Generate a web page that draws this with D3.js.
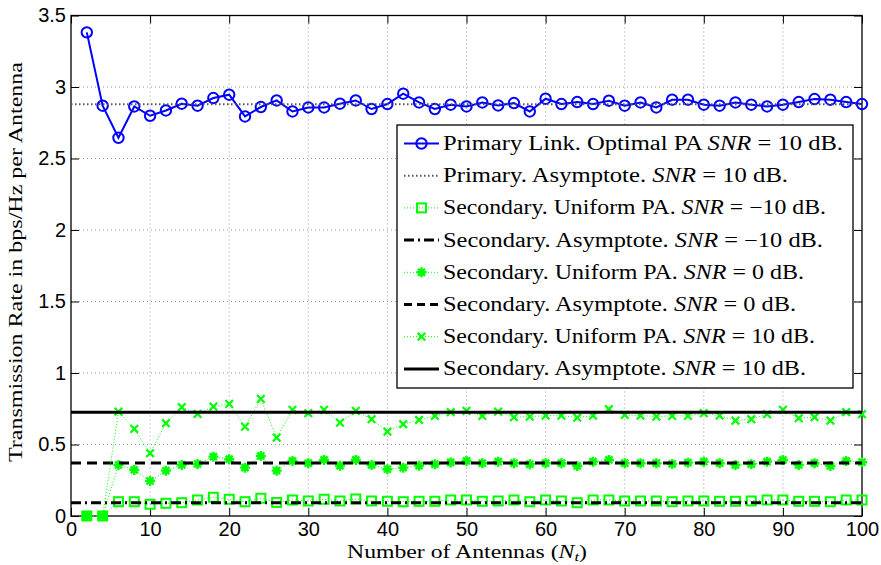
<!DOCTYPE html>
<html><head><meta charset="utf-8">
<script src="https://cdn.jsdelivr.net/npm/d3@7"></script>
<style>
body{margin:0;background:#fff;}
svg{display:block;}
</style></head>
<body><svg id="c" width="881" height="565"></svg>
<script>
const nt = [2,4,6,8,10,12,14,16,18,20,22,24,26,28,30,32,34,36,38,40,42,44,46,48,50,
            52,54,56,58,60,62,64,66,68,70,72,74,76,78,80,82,84,86,88,90,92,94,96,98,100];
const primaryOpt = [3.382,2.869,2.645,2.864,2.799,2.836,2.883,2.869,2.923,2.946,2.794,2.860,2.906,2.829,2.857,2.857,2.883,2.906,2.846,2.881,2.953,2.892,2.846,2.876,2.864,
                    2.892,2.871,2.888,2.829,2.918,2.881,2.895,2.881,2.904,2.869,2.892,2.857,2.911,2.911,2.876,2.869,2.892,2.876,2.864,2.876,2.895,2.916,2.911,2.895,2.881];
const primaryAsym = 2.88;
const secM10 = [0,0,0.100,0.100,0.082,0.089,0.093,0.112,0.131,0.117,0.100,0.124,0.095,0.112,0.105,0.117,0.105,0.119,0.105,0.103,0.100,0.103,0.103,0.112,0.112,
                0.103,0.105,0.112,0.100,0.112,0.105,0.093,0.112,0.112,0.105,0.105,0.105,0.100,0.105,0.105,0.103,0.103,0.105,0.112,0.112,0.103,0.103,0.100,0.112,0.112];
const secM10Asym = 0.093;
const sec0 = [0,0,0.357,0.322,0.245,0.317,0.357,0.364,0.415,0.397,0.338,0.420,0.317,0.385,0.369,0.392,0.352,0.392,0.357,0.327,0.338,0.352,0.362,0.375,0.385,
              0.369,0.380,0.369,0.362,0.369,0.369,0.350,0.380,0.392,0.369,0.369,0.369,0.364,0.373,0.380,0.369,0.357,0.362,0.380,0.392,0.357,0.369,0.350,0.385,0.376];
const sec0Asym = 0.371;
const sec10 = [0,0,0.730,0.609,0.439,0.649,0.761,0.714,0.765,0.784,0.625,0.819,0.548,0.742,0.719,0.742,0.653,0.735,0.677,0.590,0.642,0.672,0.700,0.726,0.735,
               0.700,0.730,0.691,0.695,0.702,0.702,0.688,0.702,0.747,0.707,0.702,0.695,0.700,0.700,0.719,0.702,0.667,0.677,0.712,0.742,0.684,0.691,0.667,0.726,0.712];
const sec10Asym = 0.726;
const xTicks = [0,10,20,30,40,50,60,70,80,90,100];
const yTicks = [0,0.5,1,1.5,2,2.5,3,3.5];
const legendLabels = [
  ["Primary Link. Optimal PA ", "SNR", " = 10 dB."],
  ["Primary. Asymptote. ", "SNR", " = 10 dB."],
  ["Secondary. Uniform PA. ", "SNR", " = \u221210 dB."],
  ["Secondary. Asymptote. ", "SNR", " = \u221210 dB."],
  ["Secondary. Uniform PA. ", "SNR", " = 0 dB."],
  ["Secondary. Asymptote. ", "SNR", " = 0 dB."],
  ["Secondary. Uniform PA. ", "SNR", " = 10 dB."],
  ["Secondary. Asymptote. ", "SNR", " = 10 dB."]
];
const legendWidths = [400,345,383,380,361,353,372,363];

const svg = d3.select("#c");
const L=71, R=862, T=15.5, B=516;
const x = d3.scaleLinear().domain([0,100]).range([L,R]);
const y = d3.scaleLinear().domain([0,3.5]).range([B,T]);
const GREEN="#00ff00", BLUE="#0000ff";
const SERIF="'Liberation Serif','Times New Roman',serif";

// grid
const g = svg.append("g");
g.selectAll(".gx").data(xTicks.slice(1,-1)).enter().append("line")
 .attr("x1",d=>x(d)).attr("x2",d=>x(d)).attr("y1",T).attr("y2",B)
 .attr("stroke","#999").attr("stroke-width",1).attr("stroke-dasharray","1,3");
g.selectAll(".gy").data(yTicks.slice(1,-1)).enter().append("line")
 .attr("y1",d=>y(d)).attr("y2",d=>y(d)).attr("x1",L).attr("x2",R)
 .attr("stroke","#999").attr("stroke-width",1).attr("stroke-dasharray","1,3");

// axes
const fmt = d=>String(d);
const axB = svg.append("g").attr("transform",`translate(0,${B})`)
  .call(d3.axisBottom(x).tickValues(xTicks).tickFormat(fmt).tickSizeInner(-8).tickSizeOuter(0).tickPadding(6));
const axT = svg.append("g").attr("transform",`translate(0,${T})`)
  .call(d3.axisTop(x).tickValues(xTicks).tickFormat("").tickSizeInner(-8).tickSizeOuter(0));
const axL = svg.append("g").attr("transform",`translate(${L},0)`)
  .call(d3.axisLeft(y).tickValues(yTicks).tickFormat(fmt).tickSizeInner(-8).tickSizeOuter(0).tickPadding(5));
const axR = svg.append("g").attr("transform",`translate(${R},0)`)
  .call(d3.axisRight(y).tickValues(yTicks).tickFormat("").tickSizeInner(-8).tickSizeOuter(0));
[axB,axT,axL,axR].forEach(a=>{
  a.select(".domain").remove();
  a.selectAll("line").attr("stroke","#000");
  a.selectAll("text").attr("font-family","'Liberation Sans', Arial, sans-serif").attr("font-size",20).attr("fill","#000");
});
svg.append("rect").attr("x",L).attr("y",T).attr("width",R-L).attr("height",B-T)
  .attr("fill","none").attr("stroke","#000").attr("stroke-width",1.3);

// series helpers
const line = d3.line().x((d,i)=>x(nt[i])).y(d=>y(d));
const plot = svg.append("g");

function hline(val, dash, width, color){
  plot.append("line").attr("x1",x(0)).attr("x2",x(100)).attr("y1",y(val)).attr("y2",y(val))
    .attr("stroke",color).attr("stroke-width",width).attr("stroke-dasharray",dash);
}
function sq(sel, cx, cy){ sel.append("rect").attr("x",cx-4.5).attr("y",cy-4.5).attr("width",9).attr("height",9)
   .attr("fill","none").attr("stroke",GREEN).attr("stroke-width",2); }
function star(sel, cx, cy){
  const r=5; let p="";
  for(let k=0;k<4;k++){const a=k*Math.PI/4; p+=`M${cx-r*Math.cos(a)},${cy-r*Math.sin(a)}L${cx+r*Math.cos(a)},${cy+r*Math.sin(a)}`;}
  sel.append("path").attr("d",p).attr("stroke",GREEN).attr("stroke-width",2.4).attr("fill","none");
  sel.append("circle").attr("cx",cx).attr("cy",cy).attr("r",2.5).attr("fill",GREEN);
}
function cross(sel, cx, cy){
  const r=3.8;
  sel.append("path").attr("d",`M${cx-r},${cy-r}L${cx+r},${cy+r}M${cx-r},${cy+r}L${cx+r},${cy-r}`)
    .attr("stroke",GREEN).attr("stroke-width",2.2).attr("fill","none");
}
function circ(sel,cx,cy){ sel.append("circle").attr("cx",cx).attr("cy",cy).attr("r",5.2)
   .attr("fill","none").attr("stroke",BLUE).attr("stroke-width",2); }

function series(vals, color, width, dash, marker){
  plot.append("path").datum(vals).attr("d",line).attr("fill","none")
    .attr("stroke",color).attr("stroke-width",width).attr("stroke-dasharray",dash);
  const mg = plot.append("g");
  vals.forEach((v,i)=>marker(mg, x(nt[i]), y(v)));
}

// draw in legend order
series(primaryOpt, BLUE, 2, null, circ);
hline(primaryAsym, "1.5,2.5", 2, "#555");
series(secM10, GREEN, 1, "1,2", sq);
hline(secM10Asym, "10,4,2,4", 3, "#000");
series(sec0, GREEN, 1, "1,2", star);
hline(sec0Asym, "10,6", 3, "#000");
series(sec10, GREEN, 1, "1,2", cross);
hline(sec10Asym, null, 3, "#000");

// legend
const lg = svg.append("g");
const lx=397, ly=125, lw=456, lh=263;
lg.append("rect").attr("x",lx).attr("y",ly).attr("width",lw).attr("height",lh)
  .attr("fill","#fff").attr("stroke","#000").attr("stroke-width",1.3);
const rowY = i => 143.5 + i*32.2;
const sx1=404, sx2=439, sxm=421.5;
const styles = [
  {c:BLUE,w:2,d:null,m:circ},
  {c:"#555",w:2,d:"1.5,2.5",m:null},
  {c:GREEN,w:1,d:"1,2",m:sq},
  {c:"#000",w:3,d:"10,4,2,4",m:null},
  {c:GREEN,w:1,d:"1,2",m:star},
  {c:"#000",w:3,d:"8,5",m:null},
  {c:GREEN,w:1,d:"1,2",m:cross},
  {c:"#000",w:3,d:null,m:null}
];
legendLabels.forEach((lab,i)=>{
  const yy = rowY(i), s=styles[i];
  lg.append("line").attr("x1",sx1).attr("x2",sx2).attr("y1",yy).attr("y2",yy)
    .attr("stroke",s.c).attr("stroke-width",s.w).attr("stroke-dasharray",s.d);
  if(s.m) s.m(lg, sxm, yy);
  const t = lg.append("text").attr("x",443).attr("y",yy+6.5)
    .attr("font-family",SERIF).attr("font-size",20).attr("fill","#000")
    .attr("textLength",legendWidths[i]).attr("lengthAdjust","spacingAndGlyphs");
  t.append("tspan").text(lab[0]);
  t.append("tspan").attr("font-style","italic").text(lab[1]);
  t.append("tspan").text(lab[2]);
});

// axis labels
svg.append("text").attr("x",347).attr("y",557.5)
  .attr("font-family",SERIF).attr("font-size",18.5).attr("fill","#000")
  .attr("textLength",240).attr("lengthAdjust","spacingAndGlyphs")
  .call(t=>{ t.append("tspan").text("Number of Antennas ("); t.append("tspan").attr("font-style","italic").text("N");
             t.append("tspan").attr("font-size",13).attr("font-style","italic").attr("dy",3).text("t");
             t.append("tspan").attr("dy",-3).text(")"); });
svg.append("text").attr("transform",`translate(22,${262}) rotate(-90)`).attr("text-anchor","middle")
  .attr("font-family",SERIF).attr("font-size",19.5).attr("fill","#000")
  .attr("textLength",400).attr("lengthAdjust","spacingAndGlyphs")
  .text("Transmission Rate in bps/Hz per Antenna");
</script></body></html>
